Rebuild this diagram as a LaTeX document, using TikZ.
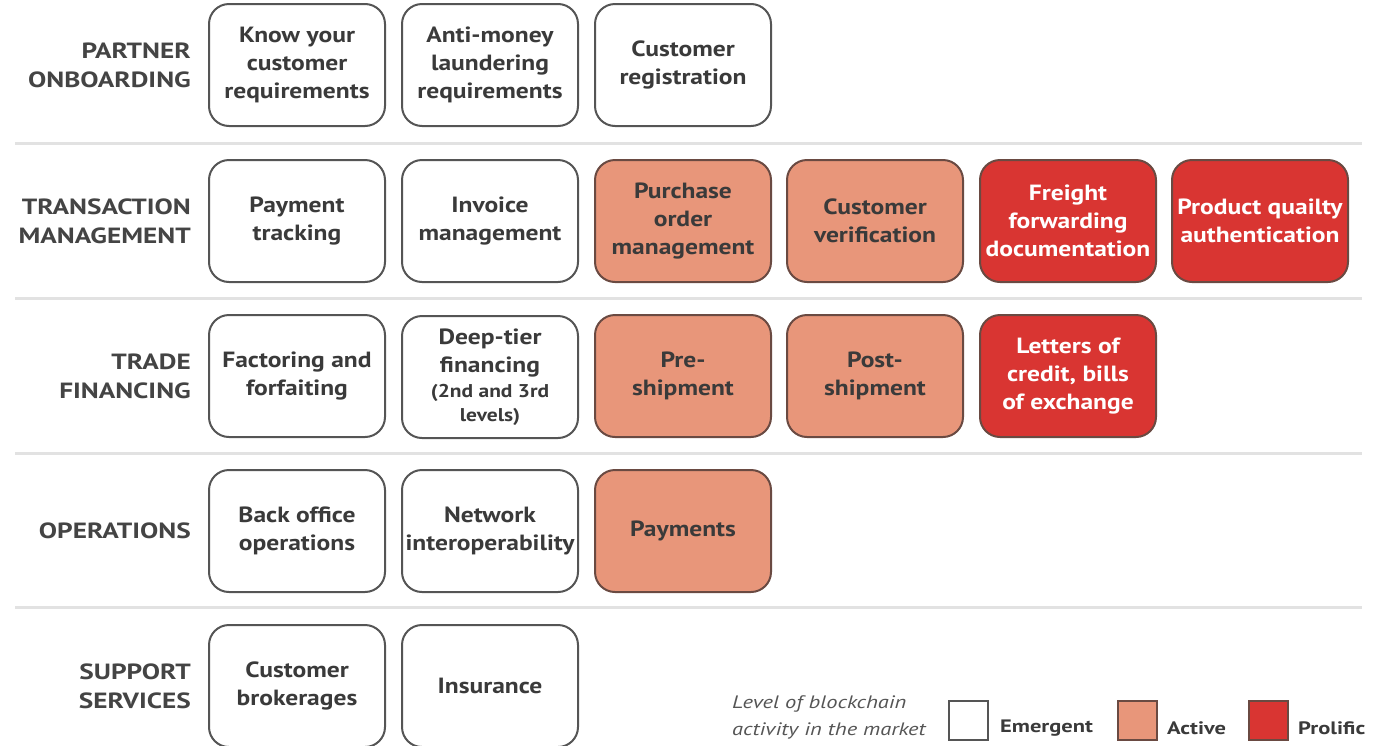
\documentclass[tikz,border=0pt]{standalone}
\usepackage{fontspec}
\setmainfont{PT Sans}[FakeStretch=1.16]
\newfontfamily\labfont{PT Sans}[FakeStretch=1.24]
\newfontfamily\legfont{PT Sans}[FakeStretch=1.25]
\begin{document}
\begin{tikzpicture}[x=1pt,y=-1pt,
  cell/.style={draw=boxline, line width=2pt, rounded corners=20pt,
    minimum width=176pt, minimum height=122pt, align=center, inner sep=1pt,
    font=\bfseries\fontsize{22}{28}\selectfont, text=txtgray, fill=white},
  active/.style={cell, fill=activefill, draw=actline},
  prolific/.style={cell, fill=prolfill, draw=actline, text=white},
  rowlabel/.style={anchor=east, align=right, text=labgray,
    font=\labfont\bfseries\fontsize{22}{29}\selectfont, inner sep=0pt},
  sep/.style={draw=sepgray, line width=3pt},
  legbox/.style={draw=boxline, line width=2pt, minimum width=39pt, minimum height=39pt, inner sep=0pt},
  legtxt/.style={anchor=west, text=txtgray, font=\legfont\bfseries\fontsize{18}{22}\selectfont, inner sep=0pt}
]
\definecolor{txtgray}{HTML}{3A3A3A}
\definecolor{labgray}{HTML}{444444}
\definecolor{boxline}{HTML}{555555}
\definecolor{actline}{HTML}{6A4A42}
\definecolor{activefill}{HTML}{E8967A}
\definecolor{prolfill}{HTML}{D93532}
\definecolor{sepgray}{HTML}{E2E2E2}
\definecolor{leggray}{HTML}{555555}
\useasboundingbox (0,0) rectangle (1379,745);
\clip (0,0) rectangle (1379,745);

% separators
\coordinate (s1l) at (15,143); \coordinate (s1r) at (1362,143);
\coordinate (s2l) at (15,298); \coordinate (s2r) at (1362,298);
\coordinate (s3l) at (15,453); \coordinate (s3r) at (1362,453);
\coordinate (s4l) at (15,607); \coordinate (s4r) at (1362,607);
\draw[sep] (s1l) -- (s1r);
\draw[sep] (s2l) -- (s2r);
\draw[sep] (s3l) -- (s3r);
\draw[sep] (s4l) -- (s4r);

% row labels
\node[rowlabel] (l1) at (191,65) {PARTNER\\ONBOARDING};
\node[rowlabel] (l2) at (191,221) {TRANSACTION\\MANAGEMENT};
\node[rowlabel] (l3) at (191,376) {TRADE\\FINANCING};
\node[rowlabel] (l4) at (191,531) {OPERATIONS};
\node[rowlabel] (l5) at (191,686) {SUPPORT\\SERVICES};

% row 1
\node[cell] (a1) at (297,65) {Know your\\customer\\requirements};
\node[cell] (a2) at (490,65) {Anti-money\\laundering\\requirements};
\node[cell] (a3) at (683,65) {Customer\\registration};
% row 2
\node[cell] (b1) at (297,221) {Payment\\tracking};
\node[cell] (b2) at (490,221) {Invoice\\management};
\node[active] (b3) at (683,221) {Purchase\\order\\management};
\node[active] (b4) at (875,221) {Customer\\verification};
\node[prolific] (b5) at (1068,221) {Freight\\forwarding\\documentation};
\node[prolific] (b6) at (1260,221) {Product quailty\\authentication};
% row 3
\node[cell] (c1) at (297,376) {Factoring and\\forfaiting};
\node[cell] (c2) at (490,377) {Deep-tier\\financing\\[-3pt]{\fontsize{18.5}{23}\selectfont (2nd and 3rd}\\[-4pt]{\fontsize{18.5}{23}\selectfont levels)}};
\node[active] (c3) at (683,376) {Pre-\\shipment};
\node[active] (c4) at (875,376) {Post-\\shipment};
\node[prolific] (c5) at (1068,376) {Letters of\\credit, bills\\of exchange};
% row 4
\node[cell] (d1) at (297,531) {Back office\\operations};
\node[cell] (d2) at (490,531) {Network\\interoperability};
\node[active] (d3) at (683,531) {Payments};
% row 5
\node[cell] (e1) at (297,686) {Customer\\brokerages};
\node[cell] (e2) at (490,686) {Insurance};

% legend
\node[anchor=west, align=left, text=leggray, inner sep=0pt,
  font=\legfont\itshape\fontsize{18}{27}\selectfont] (legt) at (732,717) {Level of blockchain\\activity in the market};
\node[legbox, fill=white] (lg1) at (968,720) {};
\node[legtxt] (lt1) at (1000,728) {Emergent};
\node[legbox, fill=activefill, draw=actline] (lg2) at (1137,720) {};
\node[legtxt] (lt2) at (1167,728) {Active};
\node[legbox, fill=prolfill, draw=actline] (lg3) at (1268,720) {};
\node[legtxt] (lt3) at (1298,728) {Prolific};
\end{tikzpicture}
\end{document}
